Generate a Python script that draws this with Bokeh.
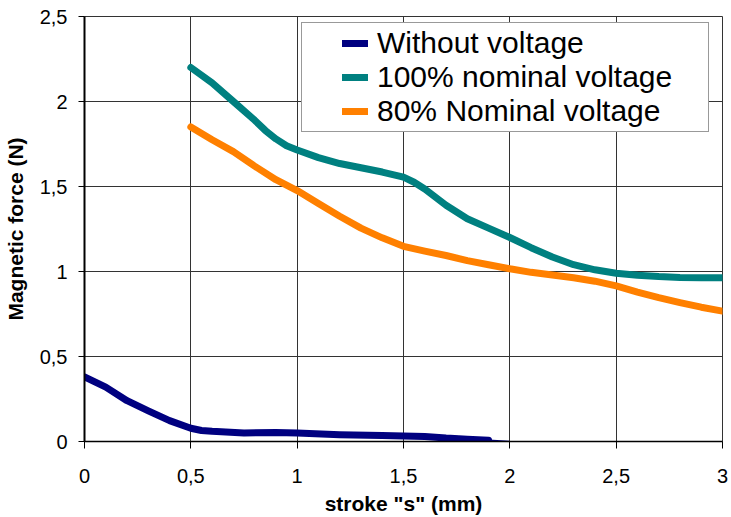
from bokeh.plotting import figure
from bokeh.models import Range1d, FixedTicker, CustomJSTickFormatter, Legend, LegendItem
from bokeh.embed import file_html
from bokeh.resources import INLINE

# ---- data ----
stroke_none = [0, 0.1, 0.2, 0.3, 0.4, 0.5, 0.55, 0.6, 0.75, 0.9, 1.0, 1.2, 1.4, 1.6, 1.7, 1.8, 1.9]
force_none = [0.38, 0.32, 0.24, 0.18, 0.123, 0.078, 0.065, 0.06, 0.05, 0.053, 0.05, 0.04, 0.035, 0.03, 0.02, 0.013, 0.008]
stroke_none_tail = [1.9, 2.0]
force_none_tail = [0.008, 0.0]

stroke_100 = [0.5, 0.6, 0.7, 0.8, 0.85, 0.9, 0.95, 1.0, 1.1, 1.2, 1.3, 1.4, 1.5, 1.55, 1.6, 1.7,
              1.8, 1.9, 2.0, 2.1, 2.2, 2.3, 2.4, 2.5, 2.6, 2.7, 2.8, 2.9, 3.0]
force_100 = [2.2, 2.11, 2.0, 1.89, 1.83, 1.78, 1.74, 1.715, 1.67, 1.635, 1.61, 1.585, 1.555, 1.525,
             1.485, 1.39, 1.31, 1.255, 1.2, 1.14, 1.085, 1.04, 1.01, 0.99, 0.978, 0.97, 0.965,
             0.963, 0.963]

stroke_80 = [0.5, 0.6, 0.7, 0.8, 0.9, 1.0, 1.1, 1.2, 1.3, 1.4, 1.5, 1.6, 1.7, 1.8, 1.9,
             2.0, 2.1, 2.2, 2.3, 2.4, 2.5, 2.6, 2.7, 2.8, 2.9, 3.0]
force_80 = [1.85, 1.775, 1.705, 1.62, 1.54, 1.476, 1.40, 1.325, 1.255, 1.198, 1.148, 1.12, 1.094,
            1.064, 1.04, 1.016, 0.995, 0.98, 0.963, 0.943, 0.915, 0.879, 0.846, 0.817, 0.79, 0.767]

x_ticks = [0, 0.5, 1, 1.5, 2, 2.5, 3]
y_ticks = [0, 0.5, 1, 1.5, 2, 2.5]

series_names = ["Without voltage", "100% nominal voltage", "80% Nominal voltage"]
colors = ["#000080", "#008080", "#FF8000"]

FONT = "Liberation Sans"

p = figure(width=731, height=517, output_backend="svg", toolbar_location=None,
           x_range=Range1d(0, 3), y_range=Range1d(0, 2.5),
           min_border_left=84, min_border_right=9, min_border_top=16, min_border_bottom=74)
p.background_fill_color = "white"
p.border_fill_color = "white"
p.outline_line_color = "#333333"
p.outline_line_width = 1

fmt = CustomJSTickFormatter(code="return tick.toString().replace('.', ',')")

for ax, ticks in ((p.xaxis[0], x_ticks), (p.yaxis[0], y_ticks)):
    ax.ticker = FixedTicker(ticks=ticks)
    ax.formatter = fmt
    ax.major_label_text_font = FONT
    ax.major_label_text_font_size = "20px"
    ax.major_label_text_color = "black"
    ax.axis_label_text_font = FONT
    ax.axis_label_text_font_size = "21px"
    ax.axis_label_text_font_style = "bold"
    ax.axis_label_text_color = "black"
    ax.axis_label_text_line_height = 1.0
    ax.major_label_text_line_height = 1.0
    ax.minor_tick_line_color = None
    ax.major_tick_in = 0
    ax.major_tick_line_color = "black"
    ax.axis_line_color = "black"

p.xaxis.axis_label = 'stroke "s" (mm)'
p.yaxis.axis_label = "Magnetic force (N)"
p.xaxis.major_tick_out = 7
p.yaxis.major_tick_out = 6
p.xaxis.major_label_standoff = 20
p.yaxis.major_label_standoff = 11
p.xaxis.axis_label_standoff = 6
p.yaxis.axis_label_standoff = 10
p.xaxis.axis_line_width = 1.5
p.yaxis.axis_line_width = 2

p.xgrid.ticker = FixedTicker(ticks=x_ticks)
p.ygrid.ticker = FixedTicker(ticks=y_ticks)
p.grid.grid_line_color = "#333333"
p.grid.grid_line_width = 1

r_none = p.line(stroke_none, force_none, line_color=colors[0], line_width=7,
                line_cap="round", line_join="round")
p.line(stroke_none_tail, force_none_tail, line_color=colors[0], line_width=1.5)
r_100 = p.line(stroke_100, force_100, line_color=colors[1], line_width=7,
               line_cap="round", line_join="round")
r_80 = p.line(stroke_80, force_80, line_color=colors[2], line_width=7,
              line_cap="round", line_join="round")

legend = Legend(items=[LegendItem(label=series_names[0], renderers=[r_none]),
                       LegendItem(label=series_names[1], renderers=[r_100]),
                       LegendItem(label=series_names[2], renderers=[r_80])],
                location=(217, 309), margin=0, padding=3, spacing=0,
                glyph_width=26, glyph_height=30, label_height=30, label_width=328,
                label_standoff=9,
                label_text_font=FONT, label_text_font_size="30px", label_text_color="black",
                label_text_line_height=1.0,
                border_line_color="#333333", border_line_width=1,
                background_fill_color="white", background_fill_alpha=1,
                title=" ", title_location="left", title_text_font_size="1px",
                title_standoff=36)
p.add_layout(legend)

open("out.html", "w").write(file_html(p, INLINE))
